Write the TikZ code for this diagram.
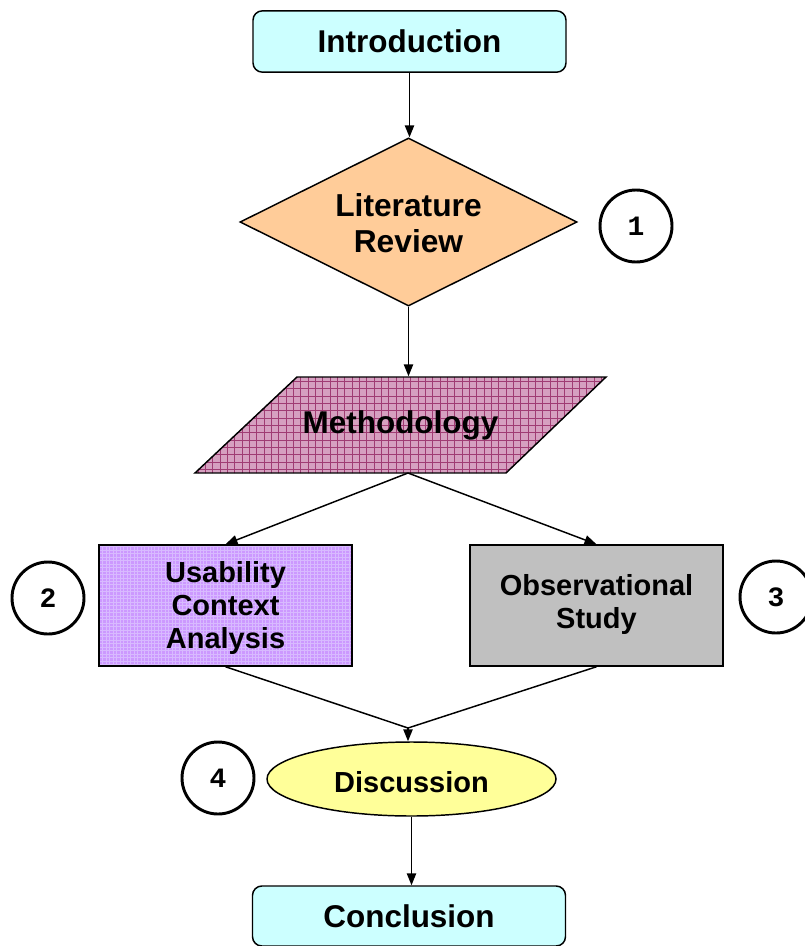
\documentclass[tikz,border=0pt]{standalone}
\usepackage{fontspec}
\setmainfont{Liberation Sans}
\newfontfamily\numfont{Liberation Mono}
\usepackage{xcolor}
\usepackage{tikz}
\usetikzlibrary{arrows, arrows.meta, positioning, shapes.geometric}

\definecolor{endcyan}{HTML}{CCFFFF}
\definecolor{litorange}{HTML}{FFCC99}
\definecolor{methpink}{RGB}{214,160,192}
\definecolor{methline}{RGB}{160,60,115}
\definecolor{usapurple}{HTML}{CC99FF}
\definecolor{usaline}{RGB}{216,186,255}
\definecolor{obsgrey}{HTML}{C0C0C0}
\definecolor{discyellow}{HTML}{FFFF99}

% text lines, lowered a little inside their shape
\newcommand\droptext[2]{\raisebox{-#1}[\height][\depth]{\begin{tabular}{@{}c@{}}#2\end{tabular}}}

\begin{document}
\begin{tikzpicture}[x=0.75pt,y=-0.75pt,>={Triangle[length=9pt,width=7pt]},
			line width=1.1pt,
			box/.style={draw,line width=1.1pt,inner sep=0pt,
				font=\bfseries\fontsize{21.75}{24.5}\selectfont},
			end node/.style={box,rounded corners=7pt,fill=endcyan,
				minimum width=234.75pt,minimum height=46pt,
				font=\bfseries\fontsize{23.6}{26}\selectfont},
			step node/.style={circle,draw,line width=2.2pt,minimum size=54pt,inner sep=0pt,
				font=\numfont\bfseries\fontsize{21}{21}\selectfont},
			fine grid/.style={path picture={\draw[usaline,line width=0.3pt,step=2.6pt]
					(path picture bounding box.south west) grid (path picture bounding box.north east);}}]
			
			\useasboundingbox (0,0) rectangle (804,946);
			
			% methodology parallelogram with its grid
			\begin{scope}
				\clip (195,473) -- (297,377) -- (606,377) -- (506,473) -- cycle;
				\fill[methpink] (195,377) rectangle (606,473);
				\draw[methline,line width=0.4pt,step=5.5pt] (190,370) grid (610,480);
			\end{scope}
			\draw[line width=1.1pt,line join=miter] (195,473) -- (297,377) -- (606,377) -- (506,473) -- cycle;
			
			\node[end node] (intro) at (409.5,41.5) {Introduction};
			\node[box,diamond,aspect=2,fill=litorange,minimum width=252.75pt,minimum height=126pt,
				font=\bfseries\fontsize{23.8}{27}\selectfont] (lit) at (408.5,222) {\droptext{3.6pt}{Literature\\Review}};
			\node[inner sep=0pt,minimum height=72pt,
				font=\bfseries\fontsize{23.6}{26}\selectfont] (meth) at (400.5,425) {Methodology};
			\node[box,fill=usapurple,fine grid,minimum width=189.75pt,minimum height=90.75pt]
				(usa) at (225.5,605.5) {\droptext{2.7pt}{Usability\\Context\\Analysis}};
			\node[box,fill=obsgrey,minimum width=189.75pt,minimum height=90.75pt,
				font=\bfseries\fontsize{21.75}{25}\selectfont] (obs) at (596.5,605.5) {\droptext{0pt}{Observational\\Study}};
			\node[box,ellipse,fill=discyellow,minimum width=216.75pt,minimum height=55.5pt] (disc) at (411.5,779) {\raisebox{-2.6pt}[\height][\depth]{Discussion}};
			\node[end node,minimum height=45pt] (conc) at (409,916) {Conclusion};
			
			% numbered steps
			\node[step node] (c1) at (636,226) {1};
			\node[step node] (c2) at (48,598) {2};
			\node[step node] (c3) at (776,597) {3};
			\node[step node] (c4) at (218,778) {4};
			
			\coordinate (split) at (408,473);
			\coordinate (join) at (408,728);
			
			\draw[->] (intro) -- (intro.south |- lit.north);
			\draw[->] (lit.south) -- (lit.south |- meth.north);
			\draw[->] (split) -- (usa.north);
			\draw[->] (split) -- (obs.north);
			\draw (usa.south) -- (join);
			\draw (obs.south) -- (join);
			\draw[->] (join) -- (join |- disc.north);
			\draw[->] (disc.south) -- (disc.south |- conc.north);
		\end{tikzpicture}
\end{document}
